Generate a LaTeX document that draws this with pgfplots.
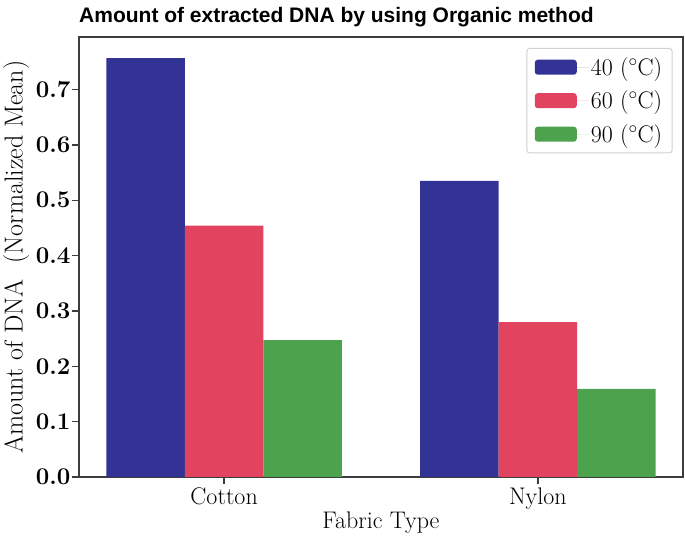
\documentclass[border=0pt]{standalone}
\usepackage{pgfplots}
\pgfplotsset{compat=1.18}
\usepackage{fontspec}
\newfontfamily\titlefont{Liberation Sans}
\definecolor{cblue}{RGB}{51,51,150}
\definecolor{cred}{RGB}{226,68,96}
\definecolor{cgreen}{RGB}{77,162,77}
\definecolor{frame}{RGB}{60,60,60}
\begin{document}
\begin{tikzpicture}
\begin{axis}[
  at={(0,0)}, anchor=south west,
  scale only axis,
  width=604pt, height=440pt,
  xmin=-0.4625, xmax=1.4625,
  ymin=0, ymax=0.795,
  ybar=0pt, bar width=0.25,
  xtick={0,1}, xticklabels={Cotton,Nylon},
  ytick={0,0.1,0.2,0.3,0.4,0.5,0.6,0.7},
  yticklabels={\textbf{0.0},\textbf{0.1},\textbf{0.2},\textbf{0.3},\textbf{0.4},\textbf{0.5},\textbf{0.6},\textbf{0.7}},
  tick align=outside,
  major tick length=7pt,
  tick style={frame, line width=1.3pt},
  xtick pos=bottom, ytick pos=left,
  axis line style={frame, line width=1.6pt},
  ticklabel style={font=\fontsize{24}{28}\selectfont},
  yticklabel style={xshift=2pt},
  xlabel style={font=\fontsize{24}{28}\selectfont, yshift=4pt},
  xlabel={Fabric Type},
  ylabel={Amount of DNA \ (Normalized Mean)},
  ylabel style={font=\fontsize{26}{30}\selectfont, yshift=0pt},
  title={\titlefont\bfseries Amount of extracted DNA by using Organic method},
  title style={font=\fontsize{21}{24}\selectfont, anchor=base west, at={(0,1)}, yshift=8pt, inner sep=0pt},
  legend style={at={(0.983,0.975)}, anchor=north east, draw=black!18, line width=1pt,
    rounded corners=3pt, font=\fontsize{24}{24}\selectfont, row sep=10pt,
    inner xsep=8pt, inner ysep=7pt},
  legend cell align=left,
  legend image code/.code={\fill[#1] (0pt,-7.5pt) rectangle (42pt,7.5pt); \path (0pt,0pt) -- (54pt,0pt);},
  every axis plot/.append style={draw=none},
]
\addplot[fill=cblue] coordinates {(0,0.757) (1,0.535)};
\addplot[fill=cred] coordinates {(0,0.454) (1,0.280)};
\addplot[fill=cgreen] coordinates {(0,0.2475) (1,0.159)};
\legend{40 ($^\circ$C),60 ($^\circ$C),90 ($^\circ$C)}
\end{axis}
\pgfresetboundingbox
\path (-79pt,-63pt) rectangle (606pt,477pt);
\end{tikzpicture}
\end{document}
